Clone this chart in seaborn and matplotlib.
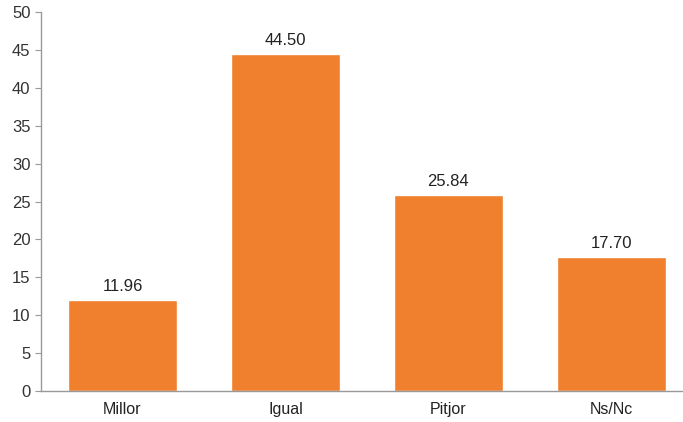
import numpy as np
import pandas as pd
import seaborn as sns
import matplotlib.pyplot as plt
from matplotlib.ticker import FixedLocator

categories = ['Millor', 'Igual', 'Pitjor', 'Ns/Nc']
values = [11.96, 44.50, 25.84, 17.70]
yticks = [0, 5, 10, 15, 20, 25, 30, 35, 40, 45, 50]

sns.set_style('white')
plt.rcParams['font.family'] = ['Liberation Sans', 'DejaVu Sans']

df = pd.DataFrame({'cat': categories, 'val': values})
fig = plt.figure(figsize=(6.83, 4.22), dpi=100)
ax = fig.add_axes([41/683, 31/422, 1 - 41/683, (391-12)/422])
sns.barplot(data=df, x='cat', y='val', color='#F07F2E', saturation=1, width=0.67, ax=ax)

for i, v in enumerate(values):
    ax.text(i, v + 0.8, f'{v:.2f}', ha='center', va='bottom', fontsize=12, color='#222222')

ax.set_ylim(0, 50)
ax.set_xlim(-0.5, 3.44)
ax.set_yticks(yticks)
ax.set_xlabel('')
ax.set_ylabel('')
ax.xaxis.set_minor_locator(FixedLocator([0.5, 1.5, 2.5, 3.5]))
ax.tick_params(axis='x', which='major', length=0, labelsize=11.5, colors='#222222', pad=8)
ax.tick_params(axis='x', which='minor', length=4, color='#999999', direction='out')
ax.tick_params(axis='y', length=4, color='#999999', labelsize=12, labelcolor='#333333', left=True)
for s in ['top', 'right']:
    ax.spines[s].set_visible(False)
for s in ['left', 'bottom']:
    ax.spines[s].set_color('#999999')
    ax.spines[s].set_linewidth(1)

fig.savefig('out.png', dpi=100)
